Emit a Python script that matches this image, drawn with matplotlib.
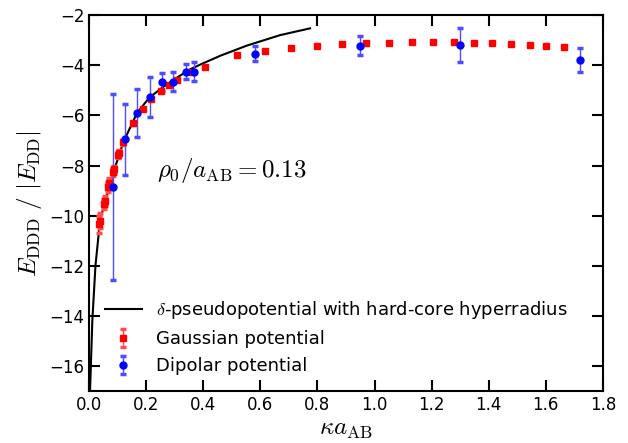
import matplotlib
matplotlib.use("Agg")
import matplotlib.pyplot as plt

plt.rcParams['mathtext.fontset'] = 'cm'

# delta-pseudopotential curve
curve_x = [0.003, 0.011, 0.022, 0.038, 0.055, 0.071, 0.09, 0.12, 0.167, 0.21,
           0.26, 0.30, 0.354, 0.40, 0.46, 0.552, 0.669, 0.774]
curve_y = [-17.0, -14.2, -12.0, -10.2, -9.45, -8.85, -8.1, -7.06, -5.92, -5.3,
           -4.86, -4.55, -4.16, -3.92, -3.62, -3.22, -2.80, -2.53]

# Gaussian potential
gauss_x = [0.035, 0.038, 0.052, 0.056, 0.067, 0.071, 0.085, 0.088, 0.102, 0.105,
           0.12, 0.154, 0.187, 0.218, 0.25, 0.279, 0.308, 0.36, 0.407, 0.517,
           0.616, 0.708, 0.80, 0.886, 0.971, 1.05, 1.13, 1.205, 1.277, 1.347,
           1.413, 1.479, 1.543, 1.60, 1.664]
gauss_y = [-10.35, -10.2, -9.55, -9.4, -8.85, -8.7, -8.25, -8.15, -7.6, -7.5,
           -7.08, -6.32, -5.76, -5.34, -5.02, -4.78, -4.58, -4.27, -4.06, -3.58,
           -3.44, -3.30, -3.22, -3.17, -3.12, -3.10, -3.09, -3.06, -3.08, -3.10,
           -3.12, -3.14, -3.20, -3.22, -3.26]
gauss_err = [0.35, 0.3, 0.2, 0.2, 0.2, 0.2, 0.15, 0.15, 0.12, 0.1,
             0.1, 0.05, 0.0, 0.0, 0.0, 0.0, 0.0, 0.0, 0.0, 0.0,
             0.0, 0.0, 0.0, 0.0, 0.0, 0.0, 0.0, 0.0, 0.0, 0.0,
             0.0, 0.0, 0.0, 0.0, 0.0]

# Dipolar potential
dip_x = [0.083, 0.125, 0.168, 0.214, 0.256, 0.293, 0.34, 0.369, 0.582, 0.949, 1.298, 1.72]
dip_y = [-8.85, -6.96, -5.9, -5.27, -4.67, -4.65, -4.26, -4.26, -3.54, -3.22, -3.20, -3.81]
dip_err = [3.7, 1.4, 0.96, 0.81, 0.35, 0.37, 0.29, 0.38, 0.3, 0.37, 0.67, 0.48]

fig = plt.figure(figsize=(6.28, 4.43), dpi=100)
ax = fig.add_axes([0.142, 0.117, 0.818, 0.849])

ax.plot(curve_x, curve_y, color='black', lw=1.5,
        label=r'$\delta$-pseudopotential with hard-core hyperradius')
ax.errorbar(gauss_x, gauss_y, yerr=gauss_err, fmt='s', color='red', ms=5,
            ecolor=(1, 0.3, 0.3), elinewidth=1, capsize=2.5, capthick=2.5,
            label='Gaussian potential')
ax.errorbar(dip_x, dip_y, yerr=dip_err, fmt='o', color='blue', ms=5,
            ecolor=(0.3, 0.3, 1), elinewidth=1, capsize=2.5, capthick=2.5,
            label='Dipolar potential')

ax.text(0.238, -8.2, r'$\rho_0/a_{\rm AB}=0.13$', fontsize=18, va='center')

ax.set_xlim(0, 1.8)
ax.set_ylim(-17, -2)
ax.set_xticks([0.0, 0.2, 0.4, 0.6, 0.8, 1.0, 1.2, 1.4, 1.6, 1.8])
ax.set_yticks([-16, -14, -12, -10, -8, -6, -4, -2])
ax.tick_params(direction='in', length=8, width=1.5, top=True, right=True,
               labelsize=12)
for s in ax.spines.values():
    s.set_linewidth(1.5)

ax.set_xlabel(r'$\kappa a_{\rm AB}$', fontsize=18, labelpad=2)
ax.set_ylabel(r'$E_{\rm DDD}\ /\ |E_{\rm DD}|$', fontsize=18, labelpad=4)

ax.legend(loc='lower left', frameon=False, fontsize=13, handlelength=2.0,
          borderaxespad=0.5, labelspacing=0.5)

fig.savefig('out.png', dpi=100)
